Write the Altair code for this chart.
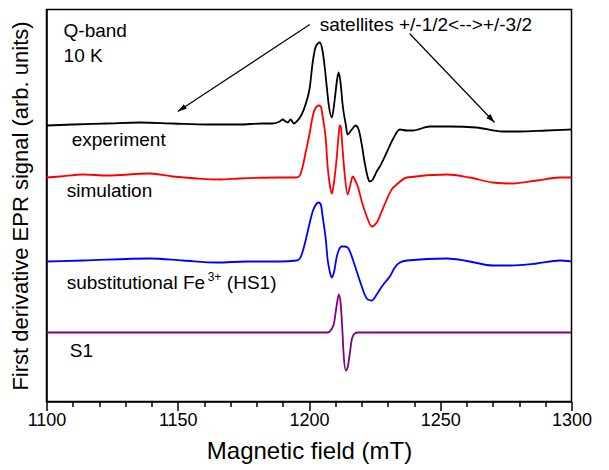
import altair as alt
import pandas as pd

# ---- data (x in mT, y in arbitrary units) ----
x_exp = [1100, 1110.1, 1123.0, 1135.6, 1148.1, 1161.1, 1173.6, 1182.0, 1186.2, 1188.8,
         1190.0, 1191.1, 1191.9, 1193.0, 1194.2, 1195.3, 1197.2, 1198.8, 1200.3, 1201.4,
         1202.6, 1204.1, 1205.2, 1206.0, 1206.8, 1207.5, 1208.7, 1209.8, 1210.6, 1211.3,
         1212.1, 1212.8, 1214.0, 1214.7, 1216.3, 1217.8, 1218.9, 1220.1, 1221.2, 1222.4,
         1223.1, 1224.3, 1225.8, 1227.0, 1229.6, 1231.9, 1234.6, 1237.3, 1239.5, 1246.0,
         1253.6, 1263.8, 1273.7, 1280.2, 1290.5, 1300]
y_exp = [276, 277, 278, 279, 278, 277, 277, 278, 278, 280,
         282, 280, 279, 282, 278, 280, 287, 298, 314, 339,
         355, 359, 350, 334, 314, 297, 284, 302, 320, 329,
         317, 297, 277, 267, 272, 276, 272, 257, 239, 224,
         220, 222, 230, 235, 249, 262, 272, 271, 271, 275,
         275, 274, 270, 270, 271, 272]

x_sim = [1100, 1105.1, 1113.9, 1123.0, 1139.4, 1148.1, 1157.3, 1166.0, 1173.6, 1188.9,
         1195.3, 1196.5, 1197.6, 1198.8, 1200.3, 1201.4, 1202.2, 1203.7, 1204.5, 1205.2,
         1206.4, 1207.1, 1207.9, 1208.7, 1209.4, 1210.6, 1211.3, 1211.7, 1212.1, 1212.8,
         1213.6, 1214.7, 1215.5, 1216.7, 1217.4, 1218.6, 1220.1, 1222.0, 1223.9, 1225.8,
         1227.7, 1229.6, 1231.5, 1233.4, 1237.3, 1252.5, 1261.2, 1270.0, 1277.6, 1286.7,
         1295.5, 1300]
y_sim = [224, 225, 227, 226, 228, 225, 223, 222, 223, 224,
         224, 226, 235, 250, 269, 285, 292, 296, 295, 285,
         262, 235, 217, 208, 217, 245, 267, 276, 275, 252,
         227, 207, 214, 225, 222, 215, 200, 185, 175, 179,
         190, 202, 212, 217, 224, 227, 224, 219, 218, 221,
         224, 224]

x_hs1 = [1100, 1113.9, 1139.4, 1152.0, 1165.0, 1176.4, 1188.9, 1195.3, 1196.5, 1197.6,
         1198.8, 1200.3, 1201.4, 1202.2, 1203.7, 1204.5, 1205.2, 1206.4, 1207.1, 1207.9,
         1208.7, 1209.4, 1210.6, 1211.3, 1212.4, 1213.6, 1214.7, 1215.9, 1216.7, 1218.2,
         1220.1, 1221.2, 1222.4, 1223.9, 1225.8, 1227.0, 1228.9, 1230.8, 1232.7, 1234.6,
         1237.3, 1252.5, 1261.2, 1270.0, 1276.5, 1286.7, 1295.5, 1300]
y_hs1 = [140, 141, 143, 141, 139, 140, 140, 141, 143, 150,
         162, 179, 190, 195, 199, 197, 185, 162, 142, 130,
         124, 128, 145, 151, 155, 155, 154, 148, 142, 130,
         115, 107, 102, 101, 107, 112, 119, 125, 134, 139,
         141, 143, 140, 136, 136, 138, 141, 140]

x_s1 = [1100, 1207.0, 1207.9, 1209.4, 1210.6, 1211.4, 1212.1, 1212.7, 1213.2, 1214.0,
        1214.7, 1215.5, 1216.3, 1217.4, 1218.6, 1300]
y_s1 = [69, 69, 70, 77, 97, 107, 97, 72, 47, 31,
        34, 47, 62, 68, 69, 69]

series_names = ["experiment", "simulation", "HS1", "S1"]
series_colors = ["#000000", "#ff0000", "#0000ff", "#800080"]

# annotation arrows (start -> end), data coordinates
arrow_id = ["left", "left", "right", "right"]
arrow_x = [1200.3, 1150.0, 1238.3, 1270.7]
arrow_y = [377, 290, 368, 279]
head_x = [1150.0, 1270.7]
head_y = [290, 279]
head_angle = [236.6, 136.3]

# text labels
label_text = ["Q-band", "10 K", "satellites +/-1/2<-->+/-3/2", "experiment",
              "simulation", "substitutional Fe", "(HS1)", "S1"]
label_x = [1106.5, 1106.5, 1204.1, 1109.6, 1107.7, 1107.7, 1168.7, 1108.9]
label_y = [371, 346, 377, 262, 211, 119, 119, 51]
sup_text = ["3+"]
sup_x = [1161.4]
sup_y = [125]

major_ticks = list(range(1100, 1301, 50))
minor_ticks = [v for v in range(1100, 1301, 10) if v % 50 != 0]

# ---- build tables ----
rows = []
for name, xs, ys in zip(series_names, [x_exp, x_sim, x_hs1, x_s1], [y_exp, y_sim, y_hs1, y_s1]):
    for i, (xv, yv) in enumerate(zip(xs, ys)):
        rows.append({"series": name, "x": xv, "y": yv, "i": i})
df = pd.DataFrame(rows)
df_arrow = pd.DataFrame({"id": arrow_id, "x": arrow_x, "y": arrow_y})
df_head = pd.DataFrame({"x": head_x, "y": head_y, "ang": head_angle})
df_lab = pd.DataFrame({"t": label_text, "x": label_x, "y": label_y})
df_sup = pd.DataFrame({"t": sup_text, "x": sup_x, "y": sup_y})

FONT = "Liberation Sans"

xscale = alt.Scale(domain=[1100, 1300], nice=False, zero=False)
yscale = alt.Scale(domain=[0, 392], nice=False, zero=False)

xaxis = alt.Axis(
    orient="bottom",
    values=major_ticks,
    format="d",
    tickSize=9,
    labelOverlap=False,
    labelFlush=False,
    labelFontSize=18,
    labelPadding=1,
    titleFontSize=24,
    titleFontWeight="normal",
    titlePadding=10,
    grid=False,
    domainColor="black",
    domainWidth=1.5,
    tickColor="black",
    tickWidth=1.5,
    labelColor="black",
    titleColor="black",
    title="Magnetic field (mT)",
)
xaxis_minor = alt.Axis(
    orient="bottom",
    values=minor_ticks,
    labels=False,
    domain=False,
    grid=False,
    tickSize=5,
    tickColor="black",
    tickWidth=1.5,
    title=None,
)
yaxis = alt.Axis(
    orient="left",
    labels=False,
    ticks=False,
    grid=False,
    domainColor="black",
    domainWidth=1.5,
    titleFontSize=22,
    titleFontWeight="normal",
    titleColor="black",
    titlePadding=14,
    title="First derivative EPR signal (arb. units)",
)

lines = alt.Chart(df).mark_line(strokeWidth=1.8, interpolate="monotone").encode(
    x=alt.X("x:Q", scale=xscale, axis=xaxis),
    y=alt.Y("y:Q", scale=yscale, axis=yaxis),
    color=alt.Color("series:N", scale=alt.Scale(domain=series_names, range=series_colors), legend=None),
    order="i:Q",
)

arrows = alt.Chart(df_arrow).mark_line(strokeWidth=1.2, color="black").encode(
    x=alt.X("x:Q", scale=xscale, axis=xaxis_minor),
    y=alt.Y("y:Q", scale=yscale, axis=None),
    detail="id:N",
)

heads = alt.Chart(df_head).mark_point(
    shape="M0,0L0.55,1.8L-0.55,1.8Z", filled=True, size=100, color="black", opacity=1, strokeWidth=0
).encode(
    x=alt.X("x:Q", scale=xscale, axis=None),
    y=alt.Y("y:Q", scale=yscale, axis=None),
    angle=alt.Angle("ang:Q", scale=None),
)

labels = alt.Chart(df_lab).mark_text(align="left", baseline="middle", fontSize=19, font=FONT, color="black").encode(
    x=alt.X("x:Q", scale=xscale, axis=None),
    y=alt.Y("y:Q", scale=yscale, axis=None),
    text="t:N",
)

sup = alt.Chart(df_sup).mark_text(align="left", baseline="middle", fontSize=12, font=FONT, color="black").encode(
    x=alt.X("x:Q", scale=xscale, axis=None),
    y=alt.Y("y:Q", scale=yscale, axis=None),
    text="t:N",
)

chart = alt.layer(lines, arrows, heads, labels, sup).resolve_axis(
    x="independent", y="independent"
).properties(
    width=525,
    height=392,
    padding={"left": 38.5, "top": 1.5, "right": 20, "bottom": 64},
    autosize="none",
).configure_view(
    stroke="black", strokeWidth=1.5
).configure_axis(
    labelFont=FONT, titleFont=FONT
)

chart.save("out.html", embed_options={"renderer": "svg", "actions": False})
